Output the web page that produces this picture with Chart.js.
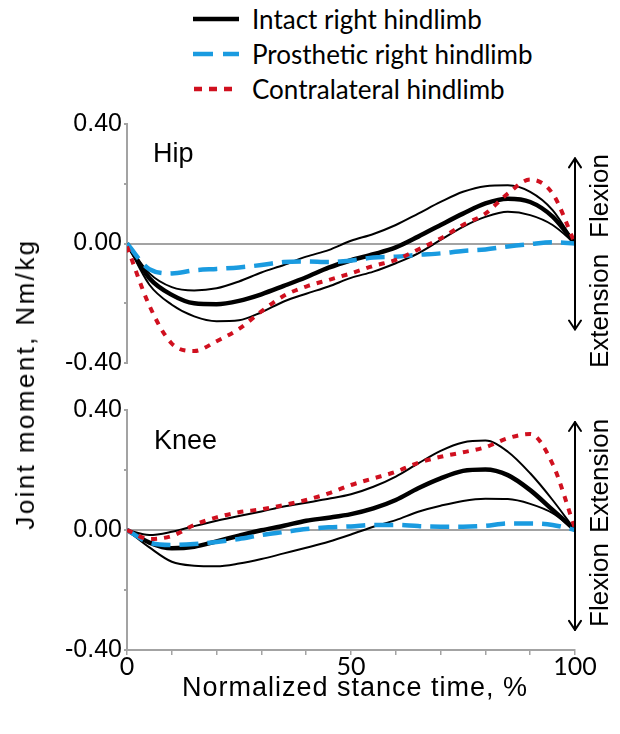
<!DOCTYPE html>
<html>
<head>
<meta charset="utf-8">
<script src="https://cdn.jsdelivr.net/npm/chart.js@4.4.1/dist/chart.umd.min.js"></script>
<style>
html,body{margin:0;padding:0;background:#fff;width:620px;height:734px;overflow:hidden;}
#wrap{position:relative;width:620px;height:734px;}
.box{position:absolute;left:0;width:620px;}
.txt{position:absolute;font-family:"Liberation Sans",Arial,sans-serif;color:#000;white-space:nowrap;line-height:1;}
.leg{position:absolute;left:193px;height:30px;display:flex;align-items:center;}
.leg svg{display:block;}
.leg span{position:absolute;left:59px;font-family:Lato,"Open Sans",sans-serif;font-size:26px;color:#000;white-space:nowrap;}
.rot{transform:translate(-50%,-50%) rotate(-90deg);}
</style>
</head>
<body>
<div id="wrap">
  <div class="leg" style="top:4px;"><svg width="46" height="10"><line x1="0" y1="5" x2="46" y2="5" stroke="#000" stroke-width="4.5"/></svg><span>Intact right hindlimb</span></div>
  <div class="leg" style="top:39px;"><svg width="46" height="10"><line x1="0" y1="5" x2="46" y2="5" stroke="#1a9be0" stroke-width="4.5" stroke-dasharray="20 10"/></svg><span>Prosthetic right hindlimb</span></div>
  <div class="leg" style="top:74px;"><svg width="46" height="10"><line x1="1" y1="5" x2="39" y2="5" stroke="#d0101f" stroke-width="4.5" stroke-dasharray="8 7"/></svg><span>Contralateral hindlimb</span></div>

  <div class="box" style="top:100px;height:280px;"><canvas id="hip"></canvas></div>
  <div class="box" style="top:380px;height:310px;"><canvas id="knee"></canvas></div>

  <div class="txt" style="left:153px;top:140px;font-size:27px;">Hip</div>
  <div class="txt" style="left:154px;top:427px;font-size:27px;">Knee</div>

  <div class="txt rot" style="left:25px;top:384px;font-size:26px;letter-spacing:2.4px;">Joint moment, Nm/kg</div>
  <div class="txt" style="left:355px;top:687px;font-size:27px;letter-spacing:1px;transform:translate(-50%,-50%);">Normalized stance time, %</div>

  <div class="txt rot" style="left:599px;top:196px;font-size:26px;">Flexion</div>
  <div class="txt rot" style="left:599px;top:311px;font-size:26px;">Extension</div>
  <div class="txt rot" style="left:599px;top:476px;font-size:26px;">Extension</div>
  <div class="txt rot" style="left:599px;top:585px;font-size:26px;">Flexion</div>
</div>
<script>
// ---- data (normalized stance time, %) ----
const stance = [0,5,10,15,20,25,30,35,40,45,50,55,60,65,70,75,80,85,90,95,100];

const hipIntactMean  = [0,-0.116,-0.172,-0.200,-0.203,-0.192,-0.170,-0.142,-0.113,-0.081,-0.056,-0.036,-0.013,0.023,0.062,0.100,0.134,0.150,0.139,0.090,0];
const hipIntactUpper = [0,-0.100,-0.146,-0.157,-0.150,-0.127,-0.097,-0.072,-0.044,-0.022,0.009,0.032,0.062,0.100,0.139,0.173,0.192,0.195,0.173,0.112,0];
const hipIntactLower = [0,-0.138,-0.205,-0.244,-0.260,-0.257,-0.230,-0.194,-0.168,-0.144,-0.115,-0.094,-0.066,-0.033,0.012,0.056,0.089,0.106,0.095,0.062,0];
const hipProsthetic  = [0,-0.086,-0.100,-0.090,-0.085,-0.080,-0.072,-0.062,-0.060,-0.062,-0.057,-0.047,-0.044,-0.038,-0.033,-0.025,-0.020,-0.010,-0.002,0.004,0];
const hipContra      = [-0.010,-0.208,-0.335,-0.360,-0.327,-0.286,-0.227,-0.175,-0.144,-0.122,-0.100,-0.075,-0.055,-0.020,0.017,0.062,0.100,0.167,0.214,0.167,0];

const kneeIntactMean  = [0,-0.042,-0.061,-0.056,-0.038,-0.019,-0.001,0.014,0.031,0.041,0.053,0.072,0.100,0.139,0.172,0.197,0.202,0.183,0.133,0.067,0];
const kneeIntactUpper = [0,-0.017,-0.006,0.013,0.031,0.047,0.062,0.078,0.091,0.104,0.119,0.144,0.178,0.222,0.264,0.292,0.298,0.261,0.189,0.100,0];
const kneeIntactLower = [0,-0.058,-0.106,-0.119,-0.121,-0.112,-0.097,-0.078,-0.059,-0.039,-0.015,0.011,0.033,0.061,0.081,0.097,0.104,0.103,0.087,0.056,0];
const kneeProsthetic  = [0,-0.042,-0.050,-0.047,-0.040,-0.030,-0.017,-0.007,0.003,0.009,0.012,0.017,0.017,0.013,0.011,0.011,0.014,0.022,0.022,0.017,0];
const kneeContra      = [0,-0.030,-0.020,0.017,0.042,0.059,0.069,0.083,0.100,0.122,0.150,0.172,0.194,0.224,0.244,0.259,0.276,0.306,0.320,0.220,0.005];

const yTickValues = [-0.4,-0.2,0,0.2,0.4];
const yTickLabels = ['-0.40','','0.00','','0.40'];
const xTickValues = [0,10,20,30,40,50,60,70,80,90,100];
const xTickLabels = ['0','','','','','50','','','','','100'];

// ---- styling ----
const GRAY = '#a3a3a3';
const BLUE = '#1a9be0';
const RED  = '#d0101f';

const pts = arr => stance.map((x,i) => ({x: x, y: arr[i]}));

function datasets(mean, upper, lower, pros, contra){
  const base = {pointRadius:0, cubicInterpolationMode:'monotone', fill:false, borderCapStyle:'butt'};
  return [
    Object.assign({}, base, {label:'Contralateral hindlimb', data:pts(contra), borderColor:RED, borderWidth:4, borderDash:[6,7], order:0}),
    Object.assign({}, base, {label:'Prosthetic right hindlimb', data:pts(pros), borderColor:BLUE, borderWidth:4.5, borderDash:[19,9], order:1}),
    Object.assign({}, base, {label:'Intact right hindlimb', data:pts(mean), borderColor:'#000', borderWidth:4.5, order:2}),
    Object.assign({}, base, {label:'Intact +SD', data:pts(upper), borderColor:'#000', borderWidth:2, order:3}),
    Object.assign({}, base, {label:'Intact -SD', data:pts(lower), borderColor:'#000', borderWidth:2, order:3})
  ];
}

const arrowPlugin = {
  id:'arrow',
  afterDraw(chart, args, opts){
    const ys = chart.scales.y, xa = chart.chartArea;
    const x = xa.right;
    const top = ys.getPixelForValue(opts.top), bot = ys.getPixelForValue(opts.bottom);
    const c = chart.ctx;
    c.save();
    c.strokeStyle = '#000'; c.lineWidth = 2; c.lineCap='round'; c.lineJoin='round';
    c.beginPath(); c.moveTo(x, top); c.lineTo(x, bot); c.stroke();
    c.beginPath(); c.moveTo(x-6, top+9); c.lineTo(x, top); c.lineTo(x+6, top+9); c.stroke();
    c.beginPath(); c.moveTo(x-6, bot-9); c.lineTo(x, bot); c.lineTo(x+6, bot-9); c.stroke();
    c.restore();
  }
};

function yScale(){
  return {
    type:'linear', min:-0.4, max:0.4,
    afterBuildTicks: s => { s.ticks = yTickValues.map(v => ({value:v})); },
    afterFit: s => { s.width = 127; },
    ticks:{ callback:(v,i) => yTickLabels[i], font:{family:'Liberation Sans', size:25}, color:'#000', padding:2, autoSkip:false },
    grid:{ color: ctx => (ctx.tick && ctx.tick.value === 0) ? GRAY : 'rgba(0,0,0,0)', lineWidth:2, tickLength:3, tickColor:GRAY },
    border:{ color:GRAY, width:2 }
  };
}

Chart.defaults.animation = false;

new Chart(document.getElementById('hip'), {
  type:'line',
  data:{ datasets: datasets(hipIntactMean, hipIntactUpper, hipIntactLower, hipProsthetic, hipContra) },
  options:{
    responsive:true, maintainAspectRatio:false, animation:false,
    layout:{ autoPadding:false, padding:{ left:0, right:45, top:24, bottom:16 } },
    plugins:{ legend:{display:false}, tooltip:{enabled:false}, arrow:{ top:0.285, bottom:-0.288 } },
    scales:{
      x:{ type:'linear', min:0, max:100, display:false },
      y: yScale()
    }
  },
  plugins:[arrowPlugin]
});

new Chart(document.getElementById('knee'), {
  type:'line',
  data:{ datasets: datasets(kneeIntactMean, kneeIntactUpper, kneeIntactLower, kneeProsthetic, kneeContra) },
  options:{
    responsive:true, maintainAspectRatio:false, animation:false,
    layout:{ autoPadding:false, padding:{ left:0, right:45, top:30, bottom:6 } },
    plugins:{ legend:{display:false}, tooltip:{enabled:false}, arrow:{ top:0.36, bottom:-0.333 } },
    scales:{
      x:{
        type:'linear', min:0, max:100,
        afterBuildTicks: s => { s.ticks = xTickValues.map(v => ({value:v})); },
        afterFit: s => { s.height = 34; },
        ticks:{ callback:(v,i) => xTickLabels[i], font:{family:'Lato', size:25}, color:'#000', padding:-3, maxRotation:0, autoSkip:false },
        grid:{ drawOnChartArea:false, tickLength:5, tickColor:GRAY, lineWidth:1.5 },
        border:{ color:GRAY, width:2 }
      },
      y: yScale()
    }
  },
  plugins:[arrowPlugin]
});
</script>
</body>
</html>
